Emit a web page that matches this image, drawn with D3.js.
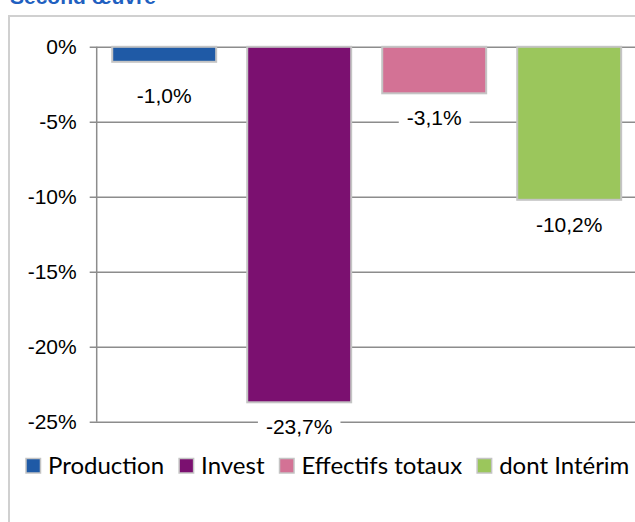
<!DOCTYPE html>
<html>
<head>
<meta charset="utf-8">
<script src="https://cdn.jsdelivr.net/npm/d3@7"></script>
<style>
  body { margin: 0; background: #fff; }
  svg { display: block; }
</style>
</head>
<body>
<div id="chart0"></div>
<script>
  // data
  var categories = ["Production", "Invest", "Effectifs totaux", "dont Intérim"];
  var values = [-1.0, -23.7, -3.1, -10.2];
  var colorsList = ["#1f5aa6", "#7b1070", "#d37295", "#9bc65c"];
  var yTicks = [0, -5, -10, -15, -20, -25];

  var W = 635, H = 522;
  var margin = {top: 46.8, left: 96.7};
  var plotW = 540, plotH = 375;
  var arial = "Liberation Sans, Arial, sans-serif";

  var svg = d3.select("#chart0").append("svg")
    .attr("width", W).attr("height", H);

  // title (cut at the top, as in the original)
  svg.append("text")
    .attr("x", 10).attr("y", 4)
    .attr("font-family", arial)
    .attr("font-weight", "bold")
    .attr("font-size", 21)
    .attr("fill", "#1f60c0")
    .text("Second œuvre");

  // chart frame
  svg.append("rect")
    .attr("x", 9).attr("y", 16)
    .attr("width", 700).attr("height", 600)
    .attr("fill", "#fff")
    .attr("stroke", "#d0d0d0")
    .attr("stroke-width", 2);

  var xScale = d3.scaleBand()
    .domain(categories)
    .range([0, plotW])
    .paddingInner(0.23)
    .paddingOuter(0.115);

  var yScale = d3.scaleLinear()
    .domain([0, -25])
    .range([0, plotH]);

  var g = svg.append("g")
    .attr("transform", "translate(" + margin.left + "," + margin.top + ")");

  // gridlines + y axis
  var yAxis = d3.axisLeft(yScale)
    .tickValues(yTicks)
    .tickSize(-(W - margin.left))
    .tickPadding(20)
    .tickFormat(function(d) { return d + "%"; });

  var ya = g.append("g").attr("class", "y axis").call(yAxis);
  ya.select(".domain").remove();
  ya.selectAll("line")
    .attr("x1", -7)
    .attr("stroke", "#8c8c8c")
    .attr("stroke-width", 1.5);
  ya.selectAll("text")
    .attr("font-family", arial)
    .attr("font-size", 21)
    .attr("fill", "#000");

  g.append("line")
    .attr("x1", 0).attr("x2", 0)
    .attr("y1", yScale(0)).attr("y2", yScale(-25))
    .attr("stroke", "#8c8c8c")
    .attr("stroke-width", 1.5);

  // bars
  g.selectAll("rect.bar")
    .data(values)
    .enter()
    .append("rect")
    .attr("class", "bar")
    .attr("x", function(d, i) { return xScale(categories[i]); })
    .attr("y", yScale(0))
    .attr("width", xScale.bandwidth())
    .attr("height", function(d) { return yScale(d) - yScale(0); })
    .attr("fill", function(d, i) { return colorsList[i]; })
    .attr("stroke", "#c4c4c4")
    .attr("stroke-width", 2);

  // value labels with white background
  var fmt = function(d) { return d.toFixed(1).replace(".", ",") + "%"; };
  var labels = g.selectAll("g.lbl")
    .data(values)
    .enter()
    .append("g")
    .attr("class", "lbl")
    .attr("transform", function(d, i) {
      var y = Math.max(yScale(d) + 32, yScale(0) + 56);
      return "translate(" + (xScale(categories[i]) + xScale.bandwidth() / 2) + "," + y + ")";
    });

  labels.append("rect")
    .attr("y", -18)
    .attr("height", 23)
    .attr("fill", "#fff");

  labels.append("text")
    .attr("text-anchor", "middle")
    .attr("font-family", arial)
    .attr("font-size", 21)
    .attr("fill", "#000")
    .text(fmt)
    .each(function() {
      var w = this.getComputedTextLength();
      d3.select(this.parentNode).select("rect")
        .attr("x", -w / 2 - 8).attr("width", w + 16);
    });

  // legend
  var legend = svg.append("g").attr("transform", "translate(0,458.5)");
  var x0 = 26;
  legend.selectAll("g")
    .data(categories)
    .enter()
    .append("g")
    .each(function(d, i) {
      var it = d3.select(this).attr("transform", "translate(" + x0 + ",0)");
      it.append("rect")
        .attr("x", 0).attr("y", 0)
        .attr("width", 14.5).attr("height", 14.5)
        .attr("fill", colorsList[i])
        .attr("stroke", "#c4c4c4")
        .attr("stroke-width", 1.5);
      var t = it.append("text")
        .attr("x", 22).attr("y", 15)
        .attr("font-family", "Lato, 'Open Sans', sans-serif")
        .attr("font-size", 24)
        .attr("fill", "#000")
        .text(d);
      x0 += 22 + t.node().getComputedTextLength() + 15;
    });
</script>
</body>
</html>
